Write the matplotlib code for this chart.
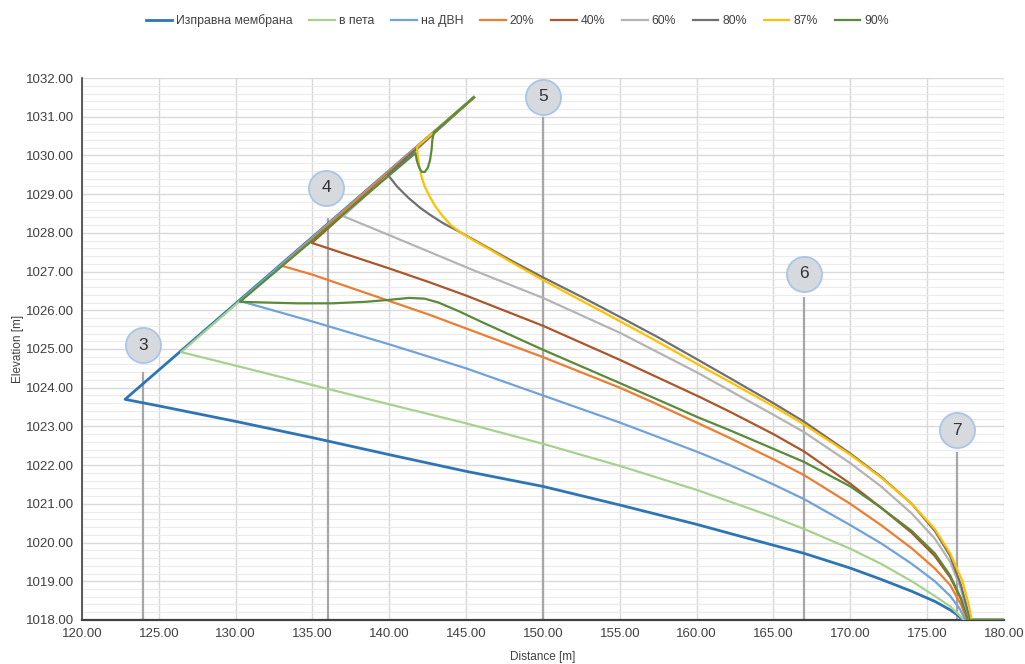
import matplotlib
matplotlib.use("Agg")
import matplotlib.pyplot as plt
from matplotlib import font_manager
from matplotlib.ticker import MultipleLocator, FormatStrFormatter

# phreatic lines through the dam body, one per membrane state
# every line starts at the crest, runs down the upstream face, then through the body
crest = (145.5, 1031.5)

intact_x = [122.8, 125.0, 130.0, 135.0, 140.0, 145.0, 150.0, 155.0, 160.0, 165.0, 167.0, 170.0, 172.0, 174.0,
            175.5, 176.5, 177.0, 177.3, 180.0]
intact_y = [1023.70, 1023.53, 1023.13, 1022.71, 1022.27, 1021.84, 1021.45, 1020.97, 1020.47, 1019.93, 1019.72,
            1019.34, 1019.05, 1018.74, 1018.48, 1018.26, 1018.12, 1018.0, 1018.0]

heel_x = [126.45, 130.0, 135.0, 140.0, 145.0, 150.0, 155.0, 160.0, 165.0, 167.0, 170.0, 172.0, 174.0, 175.5,
          176.5, 177.1, 177.4, 180.0]
heel_y = [1024.92, 1024.57, 1024.07, 1023.57, 1023.08, 1022.55, 1021.98, 1021.36, 1020.66, 1020.35, 1019.84,
          1019.45, 1019.0, 1018.62, 1018.35, 1018.12, 1018.0, 1018.0]

dvn_x = [130.28, 135.0, 140.0, 145.0, 150.0, 155.0, 160.0, 162.16, 165.0, 167.0, 170.0, 172.0, 174.0, 175.5,
         176.5, 177.1, 177.5, 180.0]
dvn_y = [1026.24, 1025.71, 1025.12, 1024.5, 1023.8, 1023.1, 1022.35, 1022.0, 1021.5, 1021.12, 1020.45, 1019.98,
         1019.45, 1019.0, 1018.62, 1018.3, 1018.0, 1018.0]

p20_x = [133.0, 135.0, 140.0, 142.64, 145.0, 150.0, 155.0, 157.0, 160.0, 162.16, 165.0, 167.0, 170.0, 172.0,
         174.0, 175.5, 176.5, 177.2, 177.6, 180.0]
p20_y = [1027.15, 1026.92, 1026.24, 1025.88, 1025.53, 1024.79, 1024.0, 1023.65, 1023.1, 1022.7, 1022.15, 1021.74,
         1021.0, 1020.45, 1019.85, 1019.33, 1018.9, 1018.4, 1018.0, 1018.0]

p40_x = [134.96, 140.0, 142.64, 145.0, 150.0, 155.0, 160.2, 162.16, 165.0, 167.0, 170.0, 172.0, 174.0, 175.5,
         176.5, 177.2, 177.7, 180.0]
p40_y = [1027.74, 1027.08, 1026.72, 1026.38, 1025.6, 1024.72, 1023.76, 1023.38, 1022.8, 1022.35, 1021.52,
         1020.9, 1020.25, 1019.65, 1019.1, 1018.55, 1018.0, 1018.0]

p60_x = [137.0, 140.0, 145.44, 150.0, 155.0, 160.0, 162.5, 165.0, 167.0, 170.0, 172.0, 174.0, 175.5, 176.5,
         177.2, 177.7, 180.0]
p60_y = [1028.43, 1027.94, 1027.04, 1026.32, 1025.42, 1024.4, 1023.85, 1023.3, 1022.85, 1022.05, 1021.45,
         1020.75, 1020.1, 1019.5, 1018.8, 1018.0, 1018.0]

p80_x = [139.9, 140.5, 141.2, 142.0, 142.6, 143.5, 144.6, 146.5, 148.0, 150.0, 152.5, 155.0, 157.5, 160.0,
         162.16, 165.0, 167.0, 170.0, 172.0, 174.0, 175.5, 176.5, 177.2, 177.8, 180.0]
p80_y = [1029.5, 1029.2, 1028.92, 1028.65, 1028.48, 1028.25, 1028.02, 1027.6, 1027.27, 1026.85, 1026.35,
         1025.83, 1025.3, 1024.74, 1024.25, 1023.6, 1023.12, 1022.3, 1021.7, 1021.0, 1020.3, 1019.65, 1018.9,
         1018.0, 1018.0]

p87_x = [143.0, 141.8, 141.85, 141.95, 142.1, 142.3, 142.64, 143.0, 143.5, 144.0, 144.6, 145.5, 146.5, 148.0,
         150.0, 152.5, 155.0, 157.5, 160.0, 162.16, 165.0, 167.0, 170.0, 172.0, 174.0, 175.5, 176.5, 177.3,
         177.7, 177.9, 180.0]
p87_y = [1030.64, 1030.22, 1030.0, 1029.72, 1029.45, 1029.2, 1028.93, 1028.68, 1028.42, 1028.2, 1028.02,
         1027.8, 1027.58, 1027.23, 1026.78, 1026.25, 1025.72, 1025.18, 1024.62, 1024.15, 1023.52, 1023.05,
         1022.27, 1021.68, 1021.0, 1020.35, 1019.72, 1019.0, 1018.4, 1018.0, 1018.0]

p90_x = [142.9, 142.8, 142.75, 142.65, 142.5, 142.3, 142.1, 141.95, 141.8, 141.7, 130.28, 132.0, 134.0, 136.3,
         138.5, 140.0, 141.3, 142.3, 143.2, 144.5, 146.0, 148.0, 150.0, 152.5, 155.0, 158.0, 160.0, 162.16,
         165.0, 167.0, 170.0, 172.0, 174.0, 175.5, 176.5, 177.2, 177.65, 180.0]
p90_y = [1030.6, 1030.4, 1030.15, 1029.88, 1029.68, 1029.57, 1029.58, 1029.68, 1029.85, 1030.06, 1026.22,
         1026.2, 1026.18, 1026.18, 1026.22, 1026.27, 1026.32, 1026.3, 1026.2, 1025.98, 1025.7, 1025.34, 1024.98,
         1024.55, 1024.12, 1023.6, 1023.25, 1022.9, 1022.42, 1022.08, 1021.45, 1020.9, 1020.3, 1019.72, 1019.15,
         1018.55, 1018.0, 1018.0]

labels = ["Изправна мембрана", "в пета", "на ДВН", "20%", "40%", "60%", "80%", "87%", "90%"]
colors = ["#2E75B6", "#A9D18E", "#6FA3DA", "#ED7D31", "#A9572B", "#B4B4B4", "#707070", "#FFC000", "#5A8A3A"]

# numbered reference sections
marker_names = ["3", "4", "5", "6", "7"]
marker_x = [124.0, 136.0, 150.0, 167.0, 176.93]
marker_top = [1024.4, 1028.38, 1030.99, 1026.34, 1022.34]
marker_cx = [124.0, 135.88, 150.0, 166.97, 176.93]
marker_cy = [1025.1, 1029.16, 1031.51, 1026.94, 1022.9]

available = {f.name for f in font_manager.fontManager.ttflist}
if "Liberation Sans Narrow" in available:
    base_font, fs = "Liberation Sans Narrow", 11
else:
    base_font, fs = "Liberation Sans", 9.5
plt.rcParams["font.family"] = [base_font, "DejaVu Sans"]

fig = plt.figure(figsize=(10.25, 6.64), dpi=100)
ax = fig.add_axes([0.080, 0.0663, 0.8995, 0.8162])

series = [
    (intact_x, intact_y), (heel_x, heel_y), (dvn_x, dvn_y), (p20_x, p20_y), (p40_x, p40_y),
    (p60_x, p60_y), (p80_x, p80_y), (p87_x, p87_y), (p90_x, p90_y),
]
for (xs, ys), label, color in zip(series, labels, colors):
    lw = 2.0 if label == labels[0] else 1.6
    ax.plot([crest[0]] + xs, [crest[1]] + ys, color=color, lw=lw, label=label, zorder=3,
            solid_joinstyle="round")

ax.vlines(marker_x, 1018, marker_top, color="#A6A6A6", lw=1.6, zorder=2)
ax.scatter(marker_cx, marker_cy, s=640, c="#D6D9DE", edgecolors="#A9C6E8", linewidths=1.3,
           zorder=5, clip_on=False)
for name, cx, cy in zip(marker_names, marker_cx, marker_cy):
    ax.text(cx, cy, name, ha="center", va="center", fontsize=12.5, color="#333333", zorder=6,
            family="Liberation Sans")

ax.set_xlim(120, 180)
ax.set_ylim(1018, 1032)
ax.xaxis.set_major_locator(MultipleLocator(5))
ax.yaxis.set_major_locator(MultipleLocator(1))
ax.yaxis.set_minor_locator(MultipleLocator(0.2))
ax.xaxis.set_major_formatter(FormatStrFormatter("%.2f"))
ax.yaxis.set_major_formatter(FormatStrFormatter("%.2f"))
ax.grid(which="major", color="#D9D9D9", lw=1.0, zorder=0)
ax.grid(which="minor", axis="y", color="#EBEBEB", lw=0.8, zorder=0)
ax.set_axisbelow(True)
ax.tick_params(which="both", length=0, labelsize=fs, colors="#404040", pad=6)

for side in ["top", "right"]:
    ax.spines[side].set_visible(False)
ax.spines["left"].set_color("#404040")
ax.spines["bottom"].set_color("#404040")
ax.spines["left"].set_linewidth(1.2)
ax.spines["bottom"].set_linewidth(1.6)

ax.set_xlabel("Distance [m]", fontsize=fs - 1, color="#404040", labelpad=8)
ax.set_ylabel("Elevation [m]", fontsize=fs - 1, color="#404040", labelpad=1)

fig.legend(loc="upper center", bbox_to_anchor=(0.505, 0.995), ncol=9, frameon=False,
           fontsize=fs - 0.7, handlelength=2.1, columnspacing=1.35, handletextpad=0.35,
           labelcolor="#404040")

fig.savefig("out.png", dpi=100)
plt.close(fig)
